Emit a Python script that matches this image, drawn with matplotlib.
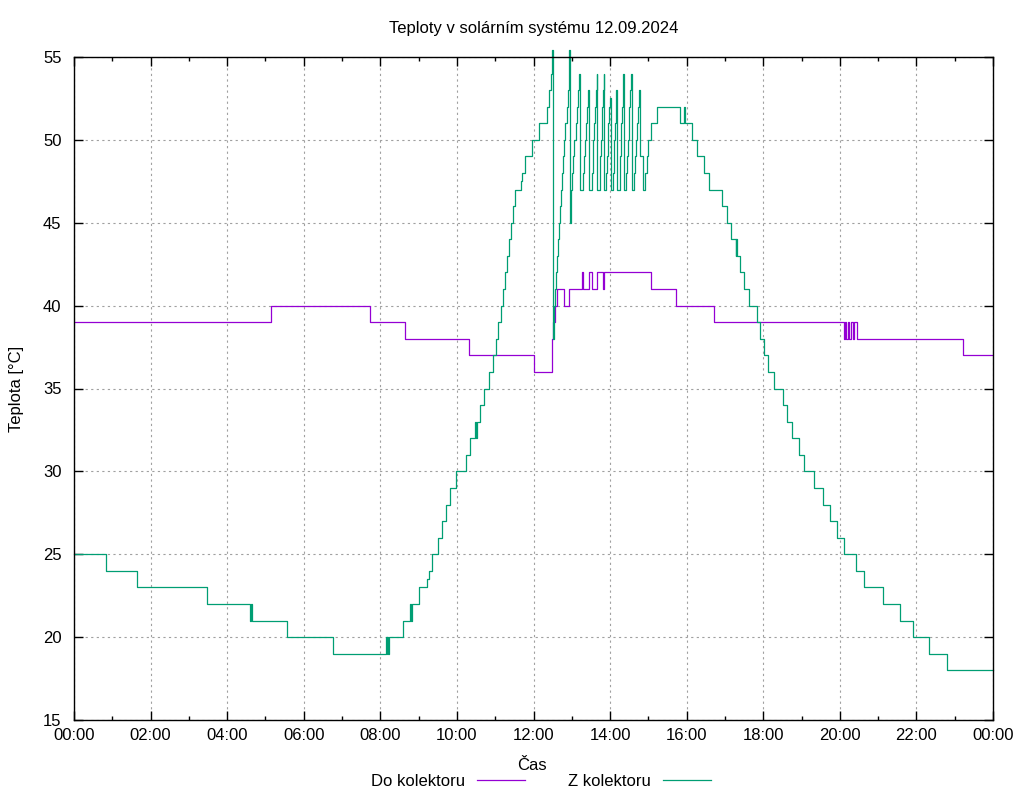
import matplotlib
matplotlib.use("Agg")
import matplotlib.pyplot as plt
from matplotlib.ticker import MultipleLocator
import numpy as np

plt.rcParams['font.family'] = ['Liberation Sans', 'DejaVu Sans']

# time in minutes after midnight, temperature in degC
do_t = [0, 308.7, 463.8, 518.6, 618.9, 720.8, 749.0, 751.3, 753.7, 756.8,
        768.3, 775.6, 796.5, 798.1, 807.4, 812.1, 819.5, 829.4, 830.9, 903.6,
        943.3, 1003.3, 1207.0, 1208.6, 1209.7, 1212.3, 1214.8, 1217.5, 1220.6,
        1222.2, 1226.4, 1393.0, 1440]
do_v = [39, 40, 39, 38, 37, 36, 38, 39, 40, 41,
        40, 41, 42, 41, 42, 41, 42, 41, 42, 41,
        40, 39, 38, 39, 38, 39, 38, 39, 38,
        39, 38, 37, 37]

z_t = [0, 50.6, 99.2, 207.9, 276.0, 277.5, 278.5, 334.2, 405.4, 489, 490, 491,
       492, 493, 516.0, 526.5, 528, 529, 540.1, 553.6, 556, 561.4, 570.4, 576.6,
       582.9, 589.2, 598.6, 613.8, 620.5, 629.1, 630, 631, 636.6, 642.9, 650.7,
       657.0, 661.2, 664.8, 668.6, 672.7, 674.9, 678.0, 681.6, 685.2, 688.3,
       691.5, 700.9, 702.4, 706.2, 718.1, 729.1, 740.4, 743.8, 746.9, 749.0,
       750.1, 751.6, 752.6, 754.2, 755.7, 757.3, 758.9, 760.4, 762.0, 763.6,
       765.1, 766.7, 768.3, 770.1, 772.5, 774.0, 775.6, 777.2, 778.7,
       # oscillation between 13:00 and 15:00
       780.3, 782, 784, 786, 788, 790, 791.8, 792.9,
       797.5, 799, 800.5, 802, 803.5, 805.4, 807.0,
       811, 812.5, 814, 815.5, 817, 818.3, 819.5, 820.0,
       823.5, 824.7, 826, 827, 828, 829, 830.0, 830.9,
       833.5, 834.7, 836, 837.2, 838.4, 839.4, 841.0,
       844.5, 845.5, 846.5, 847.5, 848.6, 849.7, 851.3,
       854.8, 855.8, 856.8, 857.8, 858.8, 859.8, 860.7, 861.8,
       865.5, 866.7, 868, 869.2, 870.4, 871.6, 872.8, 873.9,
       877.8, 879.3, 880.8, 882.3, 883.8, 885.3, 887.5, 891.1,
       895.2, 897.4, 899.9, 903.6, 913.0, 949.5, 956.3, 957.4,
       # afternoon cooling
       967.9, 976.7, 987.1, 995.5, 1015.4, 1022.7, 1029.5, 1036.7, 1037.5,
       1038.5, 1044.0, 1050.3, 1057.2, 1070.7, 1074.9, 1081.6, 1087.9, 1096.8,
       1110.5, 1116.7, 1124.6, 1136.5, 1144.3, 1160.0, 1173.6, 1184.6, 1196.3,
       1206.5, 1224.8, 1237.9, 1267.6, 1294.3, 1314.2, 1339.2, 1367.4, 1440]
z_v = [25, 24, 23, 22, 21, 22, 21, 20, 19, 20, 19, 20,
       19, 20, 21, 22, 21, 22, 23, 23.5, 24, 25, 26, 27,
       28, 29, 30, 31, 32, 33, 32, 33, 34, 35, 36,
       37, 38, 39, 40, 41, 42, 43, 44, 45, 46,
       47, 47.5, 48, 49, 50, 51, 52, 53, 54, 55.4,
       38, 39, 40, 41, 42, 43, 44, 45, 46, 47,
       48, 49, 50, 51, 52, 53, 55.4, 45, 47,
       48, 49, 50, 51, 52, 53, 54, 47,
       48, 49, 50, 51, 52, 53, 47,
       48, 49, 50, 51, 52, 53, 54, 47,
       48, 49, 50, 51, 52, 53, 54, 47,
       48, 49, 50, 51, 52, 52.5, 47,
       48, 49, 50, 51, 52, 53, 47,
       48, 49, 50, 51, 52, 53, 54, 47,
       48, 49, 50, 51, 52, 53, 54, 47,
       48, 49, 50, 51, 52, 53, 49, 47,
       48, 49, 50, 51, 52, 51, 52, 51,
       50, 49, 48, 47, 46, 45, 44, 43, 44,
       43, 42, 41, 40, 39, 38, 37, 36, 35,
       34, 33, 32, 31, 30, 29, 28, 27, 26,
       25, 24, 23, 22, 21, 20, 19, 18, 18]

hour_ticks = list(range(0, 25, 2))
hour_labels = ["%02d:00" % (h % 24) for h in hour_ticks]

fig = plt.figure(figsize=(10.24, 8), dpi=100)
ax = fig.add_axes([74/1024, 80/800, 919/1024, 663/800])

do_line, = ax.plot(np.array(do_t)/60, do_v, drawstyle='steps-post',
                   color='#9400d3', lw=0.9, label='Do kolektoru')
z_line, = ax.plot(np.array(z_t)/60, z_v, drawstyle='steps-post',
                  color='#009e73', lw=0.9, label='Z kolektoru', clip_on=False)

ax.set_xlim(0, 24)
ax.set_ylim(15, 55)
ax.set_xticks(hour_ticks)
ax.set_xticklabels(hour_labels)
ax.xaxis.set_minor_locator(MultipleLocator(1))
ax.yaxis.set_major_locator(MultipleLocator(5))
ax.tick_params(which='both', direction='in', top=True, right=True,
               labelsize=12, width=1)
ax.tick_params(which='major', length=6.5)
ax.tick_params(which='minor', length=3.2)
ax.tick_params(axis='y', pad=9)
ax.tick_params(axis='x', pad=6)
ax.grid(True, which='major', color='#a0a0a0', linestyle=(0, (2, 3)), lw=0.8)
for s in ax.spines.values():
    s.set_linewidth(1.0)

fig.text(533.5/1024, 1-28/800, 'Teploty v solárním systému 12.09.2024',
         ha='center', va='center', fontsize=12)
fig.text(17/1024, 1-388.5/800, 'Teplota [°C]', rotation=90,
         ha='center', va='center', fontsize=12)
fig.text(532/1024, 1-765/800, 'Čas', ha='center', va='center', fontsize=12)

fig.legend(handles=[do_line, z_line], loc='center',
           bbox_to_anchor=(541/1024, 1-781/800), ncol=2, markerfirst=False,
           frameon=False, fontsize=12, handlelength=2.9, handletextpad=0.7,
           columnspacing=2.6)

fig.savefig('out.png', dpi=100)
